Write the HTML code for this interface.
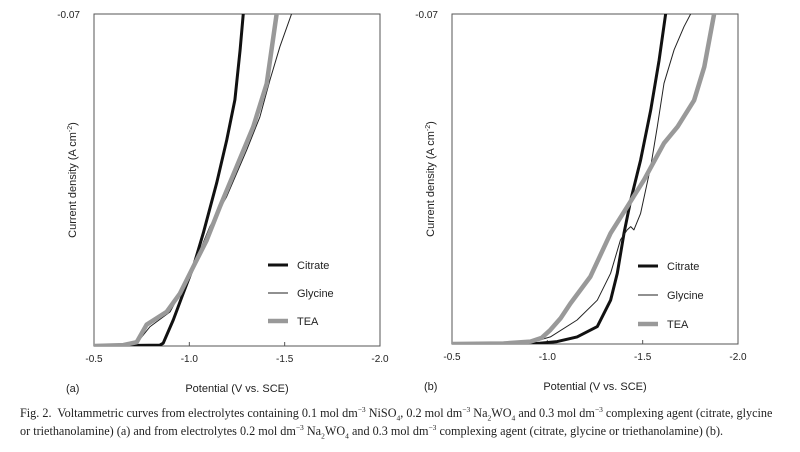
<!DOCTYPE html>
<html><head><meta charset="utf-8"><style>
body{margin:0;background:#fff;width:800px;height:452px;overflow:hidden}
svg text{font-family:"Liberation Sans",sans-serif}
.cap{position:absolute;left:20px;top:404px;width:762px;font:12.2px/18px "Liberation Serif",serif;color:#222}
.cap sup,.cap sub{font-size:7.5px;line-height:0}
</style></head><body>
<svg id="chart" width="800" height="452" style="position:absolute;left:0;top:0"></svg>
<div class="cap">Fig. 2.&nbsp; Voltammetric curves from electrolytes containing 0.1 mol dm<sup>−3</sup> NiSO<sub>4</sub>, 0.2 mol dm<sup>−3</sup> Na<sub>2</sub>WO<sub>4</sub> and 0.3 mol dm<sup>−3</sup> complexing agent (citrate, glycine or triethanolamine) (a) and from electrolytes 0.2 mol dm<sup>−3</sup> Na<sub>2</sub>WO<sub>4</sub> and 0.3 mol dm<sup>−3</sup> complexing agent (citrate, glycine or triethanolamine) (b).</div>
<script>
const xTicks=[0.5,1.0,1.5,2.0];
const xTickLabels=["-0.5","-1.0","-1.5","-2.0"];
const seriesNames=["Citrate","Glycine","TEA"];
const aCitE=[0.5,0.846,0.863,0.916,0.968,1.021,1.073,1.143,1.196,1.239,1.266,1.283];
const aCitI=[0,0.0002,0.0006,0.0055,0.0111,0.0167,0.0238,0.0343,0.0434,0.0519,0.0624,0.0701];
const aGlyE=[0.5,0.654,0.724,0.794,0.899,0.951,1.021,1.108,1.196,1.301,1.370,1.423,1.475,1.537];
const aGlyI=[0,0.0002,0.0006,0.0041,0.0072,0.0111,0.0167,0.0252,0.0315,0.0413,0.0483,0.0561,0.0631,0.0701];
const aTeaE=[0.5,0.654,0.724,0.776,0.881,0.951,1.021,1.091,1.161,1.248,1.335,1.406,1.458];
const aTeaI=[0,0.0002,0.0008,0.0045,0.0072,0.0111,0.0167,0.0223,0.0294,0.0378,0.0462,0.0553,0.0701];
const bCitE=[0.5,0.77,0.946,1.051,1.156,1.262,1.332,1.367,1.402,1.437,1.489,1.542,1.586,1.621];
const bCitI=[0,0.0001,0.0001,0.0005,0.0015,0.0037,0.0093,0.015,0.0235,0.0305,0.039,0.0496,0.0602,0.0701];
const bGlyE=[0.5,0.77,0.911,1.016,1.156,1.262,1.332,1.384,1.419,1.437,1.454,1.489,1.542,1.577,1.612,1.665,1.717,1.753];
const bGlyI=[0,0.0001,0.0003,0.0015,0.0051,0.0093,0.015,0.0221,0.0242,0.0249,0.0242,0.0277,0.0376,0.0461,0.0553,0.0624,0.0673,0.0701];
const bTeaE=[0.5,0.77,0.911,0.97,1.016,1.07,1.121,1.226,1.332,1.419,1.507,1.612,1.683,1.770,1.823,1.875];
const bTeaI=[0,0.0001,0.0005,0.0013,0.003,0.0055,0.0086,0.0143,0.0235,0.0291,0.0348,0.0426,0.0461,0.0517,0.0588,0.0701];

const NS="http://www.w3.org/2000/svg",svg=document.getElementById('chart');
function mk(t,a,p){const e=document.createElementNS(NS,t);for(const k in a)e.setAttribute(k,a[k]);(p||svg).appendChild(e);return e;}
const styles=[{c:"#111",w:3},{c:"#222",w:1},{c:"#999",w:4.5}];
function panel(id,L,R,T,B,data,leg,lab){
  const g=mk('g',{});
  
  
  const xs=e=>L+(e-0.5)/1.5*(R-L), ys=i=>B-i/0.07*(B-T);
  const cp=mk('clipPath',{id:'cp'+id},g);mk('rect',{x:L,y:T,width:R-L,height:B-T},cp);
  const fr=mk('rect',{x:L,y:T,width:R-L,height:B-T,fill:'none',stroke:'#555','stroke-width':1},g);
  
  xTicks.forEach((v,k)=>{
    mk('line',{x1:xs(v),x2:xs(v),y1:B,y2:B-4,stroke:'#555'},g);
    const t=mk('text',{x:xs(v),y:B+16,'font-size':10,'text-anchor':'middle',fill:'#222'},g);t.textContent=xTickLabels[k];
    
  });
  const yt=mk('text',{x:L-14,y:T+4,'font-size':10,'text-anchor':'end',fill:'#222'},g);yt.textContent='-0.07';
  
  const ya=mk('text',{transform:`translate(${L-18},${(T+B)/2}) rotate(-90)`,'font-size':11,'text-anchor':'middle',fill:'#222'},g);
  ya.innerHTML='Current density (A cm<tspan dy="-4" font-size="7">-2</tspan><tspan dy="4">)</tspan>';
  
  const xa=mk('text',{x:(L+R)/2,y:B+46,'font-size':11,'text-anchor':'middle',fill:'#222'},g);xa.textContent='Potential (V vs. SCE)';
  
  const pl=mk('text',{x:lab,y:B+46,'font-size':11,fill:'#222'},g);pl.textContent='('+id+')';
  
  data.forEach((d,k)=>{
    const pts=d[0].map((e,j)=>xs(e).toFixed(1)+','+ys(d[1][j]).toFixed(1)).join(' ');
    const p=mk('polyline',{points:pts,fill:'none',stroke:styles[k].c,'stroke-width':styles[k].w,'stroke-linejoin':'round','clip-path':`url(#cp${id})`},g);
    
    
  });
  seriesNames.forEach((n,k)=>{
    const y=leg[1]+k*leg[2];
    const l=mk('line',{x1:leg[0],x2:leg[0]+20,y1:y,y2:y,stroke:styles[k].c,'stroke-width':styles[k].w},g);
    
    const t=mk('text',{x:leg[0]+29,y:y+4,'font-size':11,fill:'#222'},g);t.textContent=n;
    
  });
}
panel('a',94,380,14,346,[[aCitE,aCitI],[aGlyE,aGlyI],[aTeaE,aTeaI]],[268,265,28],66);
panel('b',452,738,14,344,[[bCitE,bCitI],[bGlyE,bGlyI],[bTeaE,bTeaI]],[638,266,29],424);
</script>
</body></html>
